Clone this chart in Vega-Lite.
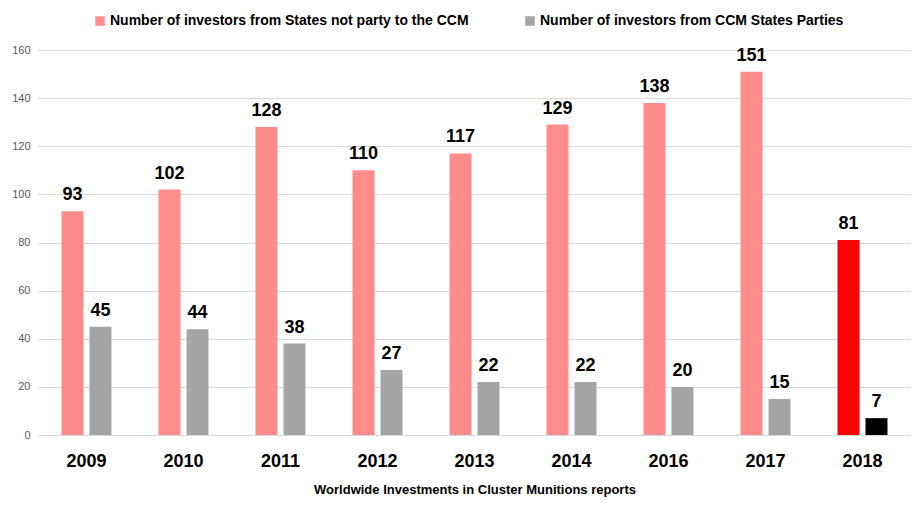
{
  "$schema": "https://vega.github.io/schema/vega-lite/v6.json",
  "width": 873,
  "height": 385,
  "autosize": {"type": "none"},
  "padding": {"left": 38, "top": 50, "right": 13, "bottom": 74},
  "background": "white",
  "config": {
    "view": {"stroke": null},
    "font": "Liberation Sans, sans-serif"
  },
  "data": {
    "values": [
      {"year": "2009", "series": "Number of investors from States not party to the CCM", "value": 93},
      {"year": "2009", "series": "Number of investors from CCM States Parties", "value": 45},
      {"year": "2010", "series": "Number of investors from States not party to the CCM", "value": 102},
      {"year": "2010", "series": "Number of investors from CCM States Parties", "value": 44},
      {"year": "2011", "series": "Number of investors from States not party to the CCM", "value": 128},
      {"year": "2011", "series": "Number of investors from CCM States Parties", "value": 38},
      {"year": "2012", "series": "Number of investors from States not party to the CCM", "value": 110},
      {"year": "2012", "series": "Number of investors from CCM States Parties", "value": 27},
      {"year": "2013", "series": "Number of investors from States not party to the CCM", "value": 117},
      {"year": "2013", "series": "Number of investors from CCM States Parties", "value": 22},
      {"year": "2014", "series": "Number of investors from States not party to the CCM", "value": 129},
      {"year": "2014", "series": "Number of investors from CCM States Parties", "value": 22},
      {"year": "2016", "series": "Number of investors from States not party to the CCM", "value": 138},
      {"year": "2016", "series": "Number of investors from CCM States Parties", "value": 20},
      {"year": "2017", "series": "Number of investors from States not party to the CCM", "value": 151},
      {"year": "2017", "series": "Number of investors from CCM States Parties", "value": 15},
      {"year": "2018", "series": "Number of investors from States not party to the CCM", "value": 81},
      {"year": "2018", "series": "Number of investors from CCM States Parties", "value": 7}
    ]
  },
  "encoding": {
    "x": {
      "field": "year", "type": "nominal",
      "scale": {"paddingInner": 0, "paddingOuter": 0},
      "axis": {
        "labelAngle": 0, "labelFontSize": 18, "labelFontWeight": "bold", "labelColor": "black",
        "labelPadding": 17, "ticks": false, "domain": false,
        "title": "Worldwide Investments in Cluster Munitions reports",
        "titleFontSize": 13, "titleFontWeight": "bold", "titleColor": "black", "titlePadding": 13
      }
    },
    "xOffset": {
      "field": "series", "type": "nominal",
      "sort": ["Number of investors from States not party to the CCM", "Number of investors from CCM States Parties"],
      "scale": {"paddingInner": 0.214, "paddingOuter": 0.84}
    },
    "y": {
      "field": "value", "type": "quantitative",
      "scale": {"domain": [0, 160], "nice": false},
      "axis": {
        "values": [0, 20, 40, 60, 80, 100, 120, 140, 160],
        "title": null, "domain": false, "ticks": false,
        "labelColor": "#595959", "labelFontSize": 11, "labelPadding": 8,
        "gridColor": "#d9d9d9"
      }
    }
  },
  "layer": [
    {
      "mark": {"type": "bar"},
      "encoding": {
        "color": {
          "condition": [
            {"test": "datum.year === '2018' && datum.series === 'Number of investors from States not party to the CCM'", "value": "#ff0000"},
            {"test": "datum.year === '2018' && datum.series === 'Number of investors from CCM States Parties'", "value": "#000000"}
          ],
          "field": "series", "type": "nominal",
          "sort": ["Number of investors from States not party to the CCM", "Number of investors from CCM States Parties"],
          "scale": {
            "domain": ["Number of investors from States not party to the CCM", "Number of investors from CCM States Parties"],
            "range": ["#ff8b8b", "#a5a5a5"]
          },
          "legend": {
            "title": null, "orient": "none", "direction": "horizontal",
            "legendX": 55, "legendY": -36,
            "symbolType": "square", "symbolSize": 90, "symbolStrokeWidth": 0,
            "labelFontSize": 14, "labelFontWeight": "bold", "labelColor": "black",
            "labelLimit": 400, "columnPadding": 54, "labelOffset": 3
          }
        }
      }
    },
    {
      "mark": {"type": "text", "baseline": "bottom", "dy": -7, "fontSize": 18, "fontWeight": "bold", "color": "black"},
      "encoding": {"text": {"field": "value", "type": "quantitative"}}
    }
  ]
}
